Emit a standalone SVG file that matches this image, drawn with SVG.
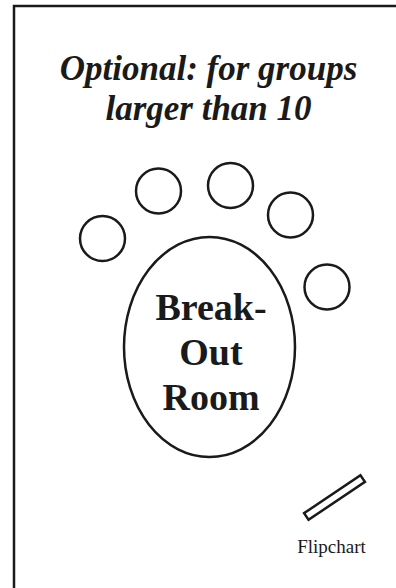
<svg xmlns="http://www.w3.org/2000/svg" width="396" height="588" viewBox="0 0 396 588">
<style>
.ln{fill:none;stroke:#1a1a1a;stroke-width:2.5}
.title{font-family:"Liberation Serif","Times New Roman",serif;font-weight:bold;font-style:italic;font-size:35px;fill:#1a1a1a;text-anchor:middle}
.room{font-family:"Liberation Serif","Times New Roman",serif;font-weight:bold;font-size:38px;fill:#1a1a1a;text-anchor:middle}
.lbl{font-family:"Liberation Serif","Times New Roman",serif;font-size:19px;fill:#1a1a1a;text-anchor:middle}
</style>
<rect width="396" height="588" fill="#fff"/>
<rect id="frame" class="ln" x="14" y="6" width="420" height="620"/>
<g id="title">
<text class="title" x="208.5" y="80">Optional: for groups</text>
<text class="title" x="208.5" y="120">larger than 10</text>
</g>
<g id="chair1"><circle class="ln" cx="102.5" cy="238.5" r="22.5"/></g>
<g id="chair2"><circle class="ln" cx="158.5" cy="191" r="22.5"/></g>
<g id="chair3"><circle class="ln" cx="230.5" cy="185.5" r="22.5"/></g>
<g id="chair4"><circle class="ln" cx="290.5" cy="215" r="22.5"/></g>
<g id="chair5"><circle class="ln" cx="327" cy="287" r="22.5"/></g>
<g id="room">
<ellipse class="ln" cx="209.5" cy="347" rx="85.5" ry="110"/>
<text class="room" x="211" y="320">Break-</text>
<text class="room" x="211" y="365">Out</text>
<text class="room" x="211" y="410">Room</text>
</g>
<g id="flipchart">
<rect class="ln" x="-34" y="-4" width="68" height="8" transform="translate(334.5,497.5) rotate(-34)"/>
<text class="lbl" x="331.5" y="553">Flipchart</text>
</g>
<g id="connectors"/>
</svg>
